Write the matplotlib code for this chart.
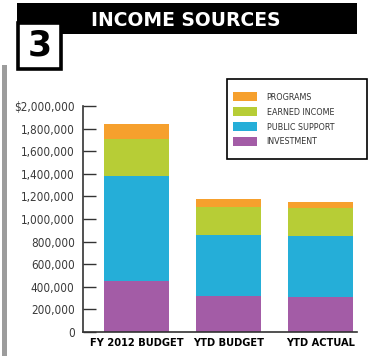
import matplotlib
matplotlib.use("Agg")
import matplotlib.pyplot as plt
from matplotlib.patches import Rectangle, Patch
from matplotlib.ticker import FuncFormatter

categories = ["FY 2012 BUDGET", "YTD BUDGET", "YTD ACTUAL"]
series_names = ["INVESTMENT", "PUBLIC SUPPORT", "EARNED INCOME", "PROGRAMS"]
investment = [452000, 320000, 311000]
public_support = [928000, 542000, 542000]
earned_income = [329000, 244000, 247000]
programs = [133000, 74000, 50000]
series_values = [investment, public_support, earned_income, programs]
colors = ["#A35CA6", "#25AED8", "#B7CD36", "#F6A02D"]
y_ticks = [0, 200000, 400000, 600000, 800000, 1000000, 1200000, 1400000,
           1600000, 1800000, 2000000]
title = "INCOME SOURCES"
section_number = "3"

W, H = 372, 356
fig = plt.figure(figsize=(W / 100, H / 100), dpi=100)
fig.patch.set_facecolor("white")

fam = ["DejaVu Sans"]

# Overlay for decorations (pixel coordinates)
ov = fig.add_axes([0, 0, 1, 1], zorder=0)
ov.set_xlim(0, W)
ov.set_ylim(H, 0)
ov.axis("off")
ov.add_patch(Rectangle((17, 3), 340, 31, facecolor="black", edgecolor="none"))
ov.text(186, 20, title, color="white", fontsize=13.5, fontweight="bold",
        ha="center", va="center", family=fam)
ov.add_patch(Rectangle((18, 22.5), 42.5, 46.5, facecolor="white",
                       edgecolor="black", linewidth=2.6))
ov.text(39.5, 46, section_number, color="black", fontsize=25, fontweight="bold",
        ha="center", va="center", family=fam)
ov.add_patch(Rectangle((2, 65), 5, H - 65, facecolor="#9C9C9C", edgecolor="none"))
ov.add_patch(Rectangle((227, 78.5), 140, 80.5, facecolor="white",
                       edgecolor="black", linewidth=1.2, zorder=5))

ax = fig.add_axes([83 / W, 1 - 332 / H, (357 - 83) / W, (332 - 106) / H], zorder=1)
ax.patch.set_alpha(0)
x = list(range(len(categories)))
bottom = [0] * len(categories)
handles = []
for name, vals, c in zip(series_names, series_values, colors):
    ax.bar(x, vals, width=0.71, bottom=bottom, color=c, edgecolor="none")
    bottom = [b + v for b, v in zip(bottom, vals)]
    handles.append(Patch(facecolor=c, edgecolor="none", label=name))

ax.set_xlim(-0.585, 2.40)
ax.set_ylim(0, 2000000)
ax.set_yticks(y_ticks)
ax.yaxis.set_major_formatter(FuncFormatter(
    lambda v, p: "$2,000,000" if v == 2000000 else ("0" if v == 0 else f"{int(v):,}")))
ax.set_xticks(x)
ax.set_xticklabels(categories, fontweight="bold", fontsize=7.9, family=fam,
                   fontstretch="condensed", color="black")
ax.tick_params(axis="x", length=0, pad=4)
ax.tick_params(axis="y", direction="in", length=9, width=1, color="#333333",
               pad=6, labelsize=8.4, labelcolor="#3a3a3a")
for lab in ax.get_yticklabels():
    lab.set_family(fam)
    lab.set_fontstretch("condensed")
for s in ["top", "right"]:
    ax.spines[s].set_visible(False)
for s in ["left", "bottom"]:
    ax.spines[s].set_color("#333333")
    ax.spines[s].set_linewidth(1.2)

leg = fig.legend(handles=handles[::-1], loc="upper left",
                 bbox_to_anchor=(227 / W, 1 - 86 / H), frameon=False,
                 prop={"family": fam, "size": 6.4, "stretch": "condensed"},
                 handlelength=2.7, handleheight=1.2, handletextpad=1.05,
                 labelspacing=0.6, borderpad=0.2)
leg.set_zorder(6)
for t in leg.get_texts():
    t.set_color("#333333")

fig.savefig("out.png", dpi=100, facecolor="white")
